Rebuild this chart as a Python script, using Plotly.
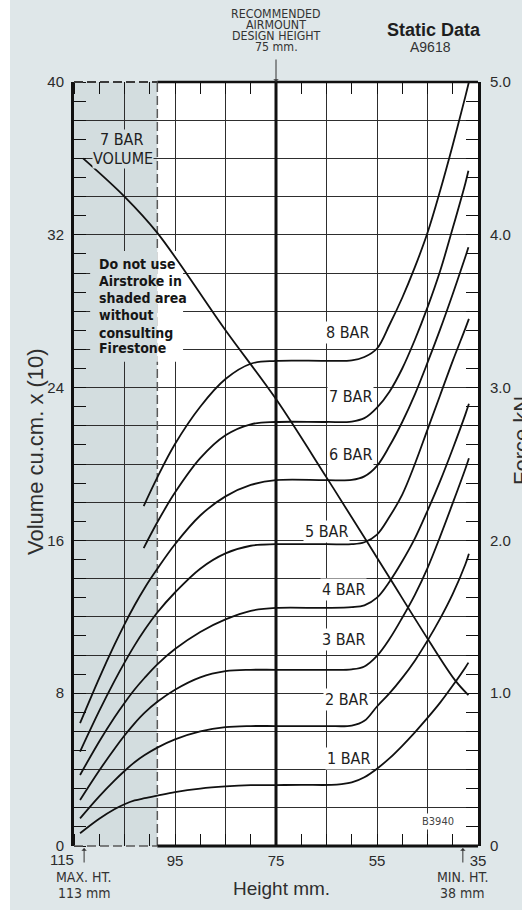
import plotly.graph_objects as go

# ---------------------------------------------------------------- axes
height_range = [115, 35]                       # mm, max height on the left
grid_heights = [115, 105, 95, 85, 75, 65, 55, 45, 35]
height_ticktext = ["", "", "95", "", "75", "", "55", "", "35"]

volume_range = [0, 40]                         # cu.cm x 10
volume_ticks = list(range(0, 41, 2))
volume_ticktext = [str(v) if v % 8 == 0 else "" for v in volume_ticks]

force_range = [0, 5]                           # kN
force_ticks = [0, 1, 2, 3, 4, 5]
force_ticktext = ["0", "1.0", "2.0", "3.0", "4.0", "5.0"]

design_height = 75
shade_limit = 98.5
max_height = 113
min_height = 38

# ---------------------------------------------------------------- data
# 7 bar volume curve (cu.cm x 10)
vol_height = [113.2, 105, 98.5, 85, 75, 65, 56.9, 52.3, 44.85, 39.6, 36.9]
vol_7bar = [36.0, 34.0, 32.1, 27.0, 23.4, 19.3, 15.9, 13.95, 10.8, 8.7, 7.9]

# Force (kN) vs height (mm) at each pressure
h_1bar = [113.8, 110, 107, 105, 103, 101, 98.5, 95, 90, 85, 80, 75, 70, 64, 62, 60, 57.5,
          55, 52.5, 50, 47.5, 45, 42.5, 40, 37.5, 36.9]
f_1bar = [0.083, 0.178, 0.240, 0.273, 0.298, 0.313, 0.330, 0.353, 0.376, 0.390, 0.398,
          0.399, 0.400, 0.400, 0.405, 0.416, 0.450, 0.506, 0.575, 0.656, 0.744, 0.838,
          0.938, 1.050, 1.169, 1.200]

h_2bar = [113.8, 110, 107, 105, 103, 101, 98.5, 95, 90, 85, 80, 75, 65, 60, 57.5, 55, 52.5,
          50, 47.5, 45, 42.5, 40, 37.5, 36.8]
f_2bar = [0.181, 0.325, 0.428, 0.491, 0.548, 0.595, 0.644, 0.698, 0.750, 0.778, 0.785,
          0.785, 0.785, 0.788, 0.819, 0.913, 1.000, 1.100, 1.213, 1.344, 1.488, 1.650,
          1.844, 1.913]

h_3bar = [113.8, 110, 107, 105, 103, 101, 98.5, 95, 90, 85, 80, 75, 65, 60, 57.5, 55, 52.5,
          50, 47.5, 45, 42.5, 40, 37.5, 36.8]
f_3bar = [0.301, 0.494, 0.635, 0.723, 0.803, 0.873, 0.944, 1.023, 1.104, 1.144, 1.153,
          1.153, 1.153, 1.156, 1.175, 1.244, 1.356, 1.494, 1.644, 1.819, 2.025, 2.244,
          2.469, 2.538]

h_4bar = [113.8, 110, 107, 105, 103, 101, 98.5, 95, 90, 85, 80, 75, 65, 60, 57.5, 55, 52.5,
          50, 47.5, 45, 42.5, 40, 37.5, 36.8]
f_4bar = [0.465, 0.684, 0.841, 0.936, 1.024, 1.101, 1.189, 1.289, 1.401, 1.483, 1.539,
          1.558, 1.558, 1.563, 1.575, 1.625, 1.731, 1.863, 2.013, 2.194, 2.388, 2.600,
          2.825, 2.894]

h_5bar = [113.8, 110, 107, 105, 103, 101, 98.5, 95, 90, 85, 80, 75, 65, 60, 57.5, 55, 52.5,
          50, 47.5, 45, 42.5, 40, 37.5, 36.8]
f_5bar = [0.618, 0.884, 1.079, 1.200, 1.313, 1.415, 1.528, 1.659, 1.815, 1.915, 1.965,
          1.975, 1.975, 1.975, 1.988, 2.038, 2.156, 2.300, 2.500, 2.725, 2.950, 3.175,
          3.388, 3.450]

h_6bar = [113.8, 110, 107, 105, 103, 101, 98.5, 95, 90, 85, 80, 75, 65, 60, 57.5, 55, 52.5,
          50, 47.5, 45, 42.5, 40, 37.5, 36.9]
f_6bar = [0.804, 1.099, 1.316, 1.451, 1.576, 1.689, 1.814, 1.975, 2.163, 2.288, 2.363,
          2.394, 2.394, 2.396, 2.419, 2.488, 2.619, 2.775, 2.956, 3.163, 3.381, 3.613,
          3.856, 3.919]

h_7bar = [101.2, 98.5, 95, 90, 85, 80, 75, 65, 60, 57.5, 55, 52.5, 50, 47.5, 45, 42.5, 40,
          37.5, 36.9]
f_7bar = [1.950, 2.119, 2.313, 2.538, 2.688, 2.760, 2.775, 2.775, 2.778, 2.800, 2.869,
          2.975, 3.125, 3.313, 3.525, 3.763, 4.044, 4.338, 4.419]

h_8bar = [101.2, 98.5, 95, 90, 85, 80, 75, 65, 60, 57.5, 55, 52.5, 50, 47.5, 45, 42.5, 40,
          37.5, 36.8]
f_8bar = [2.225, 2.413, 2.631, 2.875, 3.056, 3.156, 3.175, 3.175, 3.178, 3.200, 3.256,
          3.413, 3.588, 3.788, 4.013, 4.288, 4.588, 4.906, 5.000]

force_heights = [h_1bar, h_2bar, h_3bar, h_4bar, h_5bar, h_6bar, h_7bar, h_8bar]
force_values = [f_1bar, f_2bar, f_3bar, f_4bar, f_5bar, f_6bar, f_7bar, f_8bar]

bar_labels = ["1 BAR", "2 BAR", "3 BAR", "4 BAR", "5 BAR", "6 BAR", "7 BAR", "8 BAR"]
bar_label_height = [60.6, 61.0, 61.6, 61.7, 65.0, 60.2, 60.2, 60.8]
bar_label_force = [0.575, 0.956, 1.350, 1.681, 2.056, 2.563, 2.944, 3.363]

warning_lines = ["Do not use", "Airstroke in", "shaded area", "without", "consulting", "Firestone"]
warning_rows = [30.47, 29.58, 28.69, 27.80, 26.86, 26.07]

header_lines = ["RECOMMENDED", "AIRMOUNT", "DESIGN HEIGHT", "75 mm."]

# ---------------------------------------------------------------- style
W, H = 522, 910
M = dict(l=74, r=44, t=82, b=64)
PW = W - M["l"] - M["r"]
PH = H - M["t"] - M["b"]

PAGE = "#dfe7e9"
SHADE = "#d3dddf"
INK = "#111111"
TEXT = "#2b2b2b"
GRID = "#2e2e2e"
SANS = "Liberation Sans, Arial, Helvetica, sans-serif"
COND = "DejaVu Sans Condensed, Liberation Sans Narrow, Arial Narrow, sans-serif"


def px(x):
    return (x - M["l"]) / PW


def py(y):
    return (H - M["b"] - y) / PH


def xfrac(mm):
    return (height_range[0] - mm) / (height_range[0] - height_range[1])


fig = go.Figure()

curve_line = dict(color=INK, width=1.8, shape="spline", smoothing=1.0)

# volume curve on the main (left) axis
fig.add_trace(go.Scatter(x=vol_height, y=vol_7bar, mode="lines", line=curve_line,
                         xaxis="x", yaxis="y", name="7 BAR VOLUME", hoverinfo="skip"))
# force curves on the right axis
for hs, fs, name in zip(force_heights, force_values, bar_labels):
    fig.add_trace(go.Scatter(x=hs, y=fs, mode="lines", line=curve_line,
                             xaxis="x", yaxis="y2", name=name, hoverinfo="skip"))
# empty trace so the top tick axis is laid out
fig.add_trace(go.Scatter(x=[], y=[], xaxis="x2", yaxis="y", hoverinfo="skip"))

# ---------------------------------------------------------------- shapes
shapes = [
    # shaded "do not use" zone
    dict(type="rect", xref="x", yref="y", x0=height_range[0], x1=shade_limit,
         y0=volume_range[0], y1=volume_range[1], fillcolor=SHADE, line_width=0, layer="below"),
    # white strip at the page's left edge
    dict(type="rect", xref="paper", yref="paper", x0=px(0), x1=px(10), y0=py(H), y1=py(0),
         fillcolor="white", line_width=0, layer="below"),
    # dashed limit of the shaded zone
    dict(type="line", xref="x", yref="y", x0=shade_limit, x1=shade_limit,
         y0=volume_range[0], y1=volume_range[1],
         line=dict(color="#5a5a5a", width=1.5, dash="9px,4px"), layer="between"),
    # masks behind the warning text
    dict(type="rect", xref="x", yref="y", x0=111.8, x1=shade_limit, y0=25.35, y1=31.15,
         fillcolor=SHADE, line_width=0, layer="between"),
    dict(type="rect", xref="x", yref="y", x0=shade_limit, x1=93.4, y0=25.35, y1=31.15,
         fillcolor="white", line_width=0, layer="between"),
    # recommended design height
    dict(type="line", xref="x", yref="y", x0=design_height, x1=design_height,
         y0=volume_range[0], y1=volume_range[1], line=dict(color=INK, width=3), layer="between"),
    # frame: solid outside the shaded zone, dashed along it
    dict(type="line", xref="paper", yref="paper", x0=xfrac(shade_limit), x1=1, y0=0, y1=0,
         line=dict(color=INK, width=3), layer="above"),
    dict(type="line", xref="paper", yref="paper", x0=xfrac(shade_limit), x1=1, y0=1, y1=1,
         line=dict(color=INK, width=2.5), layer="above"),
    dict(type="line", xref="paper", yref="paper", x0=0, x1=xfrac(shade_limit), y0=0, y1=0,
         line=dict(color="#5a5a5a", width=1.6, dash="9px,4px"), layer="above"),
    dict(type="line", xref="paper", yref="paper", x0=0, x1=xfrac(shade_limit), y0=1, y1=1,
         line=dict(color="#3a3a3a", width=2, dash="9px,4px"), layer="above"),
]

# ---------------------------------------------------------------- annotations
annotations = []


def note(text, x, y, xref="x", yref="y", size=15, family=SANS, color=TEXT,
         xanchor="center", yanchor="middle", **kw):
    annotations.append(dict(text=text, x=x, y=y, xref=xref, yref=yref, showarrow=False,
                            xanchor=xanchor, yanchor=yanchor,
                            font=dict(size=size, family=family, color=color), **kw))


for text, hx, fy in zip(bar_labels, bar_label_height, bar_label_force):
    note(text, hx, fy, yref="y2", size=16, family=COND, color="#1e1e1e",
         bgcolor="white", borderpad=1)

note("7 BAR", 105.5, 37.0, size=16, family=COND, color="#1e1e1e", bgcolor=SHADE, borderpad=0)
note("VOLUME", 105.3, 36.0, size=16, family=COND, color="#1e1e1e", bgcolor=SHADE, borderpad=0)

for line, row in zip(warning_lines, warning_rows):
    note("<b>%s</b>" % line, 110.45, row, size=14, family=COND, color="#161616",
         xanchor="left")

note("B3940", 42.9, 1.26, size=11, family=COND, color="#444444", bgcolor="white",
     borderpad=1)

# header
for i, line in enumerate(header_lines):
    note(line, design_height, 1, yref="paper", size=12.3, family=COND, color="#333333",
         yshift=M["t"] - (14 + 11 * i))
annotations.append(dict(x=design_height, y=1, xref="x", yref="paper", text="", showarrow=True,
                        ax=0, ay=-24, arrowhead=1, arrowsize=0.9, arrowwidth=1,
                        arrowcolor="#333333"))
note("<b>Static Data</b>", px(434), py(30), xref="paper", yref="paper", size=18,
     color="#1e1e1e")
note("A9618", px(430), py(47), xref="paper", yref="paper", size=14, color="#333333")

# height axis extras
note("115", height_range[0], 0, yref="paper", size=15, xanchor="right", yshift=-13, xshift=2)
for mm_val, txt in [(max_height, "MAX. HT."), (min_height, "MIN. HT.")]:
    annotations.append(dict(x=mm_val, y=0, xref="x", yref="paper", text="", showarrow=True,
                            ax=0, ay=18, arrowhead=1, arrowsize=0.9, arrowwidth=1,
                            arrowcolor="#333333", standoff=2))
    note(txt, mm_val, 0, yref="paper", size=14, family=COND, color="#333333", yshift=-31)
note("113 mm", max_height, 0, yref="paper", size=14, family=COND, color="#333333",
     yshift=-47)
note("38 mm", min_height, 0, yref="paper", size=14, family=COND, color="#333333",
     yshift=-47)

# axis titles
note("Height mm.", px(281), py(888), xref="paper", yref="paper", size=19, color="#2e2e2e")
note("Volume cu.cm. x (10)", px(35), py(452), xref="paper", yref="paper", size=22,
     color="#2e2e2e", textangle=-90)
note("Force kN", px(521), py(441), xref="paper", yref="paper", size=22,
     color="#2e2e2e", textangle=-90)

# ---------------------------------------------------------------- layout
tickfont = dict(size=15, family=SANS, color=TEXT)
minor_x = dict(tickmode="linear", tick0=35, dtick=5, ticks="inside", ticklen=12,
               tickwidth=1.4, tickcolor=INK, showgrid=False)

fig.update_layout(
    width=W, height=H, margin=M,
    paper_bgcolor=PAGE, plot_bgcolor="white",
    showlegend=False, hovermode=False,
    shapes=shapes, annotations=annotations,
    xaxis=dict(range=height_range, tickmode="array", tickvals=grid_heights,
               ticktext=height_ticktext, ticks="", showgrid=True, gridcolor=GRID,
               gridwidth=1.2, zeroline=False, showline=False, tickfont=tickfont,
               ticklabelstandoff=4, minor=minor_x, anchor="y"),
    xaxis2=dict(range=height_range, overlaying="x", side="top", anchor="y",
                tickmode="array", tickvals=grid_heights, ticks="", showticklabels=False,
                showgrid=False, zeroline=False, showline=False, minor=minor_x),
    yaxis=dict(range=volume_range, tickmode="array", tickvals=volume_ticks,
               ticktext=volume_ticktext, ticks="", showgrid=True, gridcolor=GRID,
               gridwidth=1.2, zeroline=False, showline=True, linewidth=3, linecolor=INK,
               tickfont=tickfont, ticklabelstandoff=4, anchor="x",
               minor=dict(tickmode="linear", tick0=0, dtick=1, ticks="inside", ticklen=12,
                          tickwidth=1.4, tickcolor=INK, showgrid=False)),
    yaxis2=dict(range=force_range, overlaying="y", side="right", anchor="x",
                tickmode="array", tickvals=force_ticks, ticktext=force_ticktext, ticks="",
                showgrid=False, zeroline=False, showline=True, linewidth=3, linecolor=INK,
                tickfont=tickfont, ticklabelstandoff=6,
                minor=dict(tickmode="linear", tick0=0, dtick=0.125, ticks="inside",
                           ticklen=12, tickwidth=1.4, tickcolor=INK, showgrid=False)),
)

fig.write_html("out.html", config={"displayModeBar": False})
